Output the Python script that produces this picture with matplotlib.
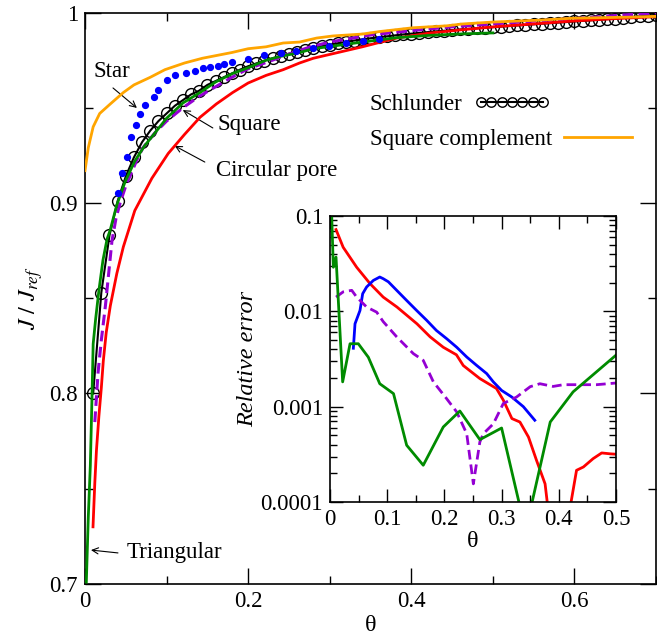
import numpy as np
import matplotlib
matplotlib.use("Agg")
import matplotlib.pyplot as plt
from matplotlib.ticker import MultipleLocator, NullFormatter, LogLocator

plt.rcParams['font.family'] = ['Liberation Serif', 'DejaVu Serif']
plt.rcParams['mathtext.fontset'] = 'stix'

# ---- main panel data (theta, J/Jref) ----
schl_theta = [0.01, 0.02, 0.03, 0.04, 0.05, 0.06, 0.07, 0.08, 0.09, 0.10,
              0.11, 0.12, 0.13, 0.14, 0.15, 0.16, 0.17, 0.18, 0.19, 0.20,
              0.21, 0.22, 0.23, 0.24, 0.25, 0.26, 0.27, 0.28, 0.29, 0.30,
              0.31, 0.32, 0.33, 0.34, 0.35, 0.36, 0.37, 0.38, 0.39, 0.40,
              0.41, 0.42, 0.43, 0.44, 0.45, 0.46, 0.47, 0.48, 0.49, 0.50,
              0.51, 0.52, 0.53, 0.54, 0.55, 0.56, 0.57, 0.58, 0.59, 0.60,
              0.61, 0.62, 0.63, 0.64, 0.65, 0.66, 0.67, 0.68, 0.69, 0.70]
schl_val = [0.800, 0.853, 0.883, 0.901, 0.914, 0.924, 0.932, 0.938, 0.943, 0.947,
            0.951, 0.954, 0.957, 0.959, 0.962, 0.964, 0.966, 0.968, 0.970, 0.9718,
            0.9733, 0.9747, 0.9760, 0.9772, 0.9784, 0.9795, 0.9805, 0.9814, 0.9823, 0.9831,
            0.9839, 0.9846, 0.9853, 0.9859, 0.9865, 0.9870, 0.9875, 0.9880, 0.9885, 0.9889,
            0.9893, 0.9897, 0.9901, 0.9904, 0.9908, 0.9911, 0.9914, 0.9917, 0.9920, 0.9923,
            0.9926, 0.9929, 0.9932, 0.9935, 0.9938, 0.9941, 0.9944, 0.9947, 0.9950, 0.9953,
            0.9956, 0.9959, 0.9962, 0.9965, 0.9968, 0.9972, 0.9976, 0.9980, 0.9984, 0.9988]

sqc_theta = [0.0, 0.004, 0.010, 0.018, 0.031, 0.047, 0.060, 0.080, 0.098, 0.122,
             0.144, 0.18, 0.20, 0.222, 0.243, 0.263, 0.284, 0.304, 0.34, 0.361,
             0.402, 0.443, 0.463, 0.50, 0.557, 0.597, 0.67, 0.70]
sqc_val = [0.917, 0.929, 0.940, 0.947, 0.952, 0.958, 0.962, 0.966, 0.970, 0.9735,
           0.976, 0.979, 0.981, 0.982, 0.984, 0.9845, 0.9866, 0.9877, 0.9887, 0.990,
           0.992, 0.993, 0.994, 0.995, 0.996, 0.997, 0.9976, 0.998]

star_theta = [0.040, 0.045, 0.051, 0.056, 0.062, 0.067, 0.073, 0.084, 0.090, 0.100,
              0.110, 0.124, 0.135, 0.145, 0.153, 0.163, 0.171, 0.180, 0.200, 0.220,
              0.240, 0.259, 0.279, 0.299, 0.320, 0.341, 0.360]
star_val = [0.9054, 0.9156, 0.9243, 0.9348, 0.941, 0.9467, 0.9514, 0.9555, 0.9593, 0.9646,
            0.9672, 0.9684, 0.9695, 0.9707, 0.9712, 0.9719, 0.973, 0.9739, 0.9754, 0.9777,
            0.9786, 0.9798, 0.9812, 0.9826, 0.9838, 0.9850, 0.9859]

sq_theta = [0.012, 0.016, 0.020, 0.025, 0.029, 0.033, 0.038, 0.043, 0.050, 0.057,
            0.064, 0.071, 0.086, 0.10, 0.12, 0.14, 0.16, 0.18, 0.20, 0.225,
            0.25, 0.275, 0.30, 0.35, 0.40, 0.45, 0.50, 0.55, 0.60, 0.65, 0.70]
sq_val = [0.785, 0.811, 0.828, 0.846, 0.863, 0.880, 0.892, 0.900, 0.909, 0.916,
          0.923, 0.929, 0.937, 0.943, 0.950, 0.956, 0.961, 0.966, 0.9705, 0.9742,
          0.9782, 0.9818, 0.9845, 0.9882, 0.9905, 0.9925, 0.9940, 0.9955, 0.9968, 0.9984, 0.9998]

tri_theta = [0.0016, 0.004, 0.0065, 0.0085, 0.010, 0.013, 0.017, 0.022, 0.027, 0.031,
             0.039, 0.049, 0.061, 0.073, 0.088, 0.10, 0.12, 0.141, 0.16, 0.181,
             0.20, 0.222, 0.24, 0.263, 0.28, 0.304, 0.34, 0.382, 0.422, 0.463, 0.50]
tri_val = [0.701, 0.735, 0.762, 0.797, 0.826, 0.839, 0.854, 0.870, 0.881, 0.886,
           0.899, 0.911, 0.922, 0.930, 0.938, 0.9445, 0.9525, 0.958, 0.9635, 0.968,
           0.971, 0.975, 0.977, 0.979, 0.981, 0.9824, 0.9845, 0.9868, 0.988, 0.9888, 0.9893]

circ_theta = [0.0098, 0.012, 0.014, 0.017, 0.020, 0.0224, 0.026, 0.031, 0.039, 0.047,
              0.061, 0.082, 0.102, 0.122, 0.141, 0.161, 0.181, 0.20, 0.222, 0.243,
              0.263, 0.28, 0.30, 0.34, 0.382, 0.422, 0.463, 0.504, 0.55, 0.597, 0.65, 0.70]
circ_val = [0.730, 0.753, 0.770, 0.788, 0.803, 0.817, 0.832, 0.846, 0.863, 0.877,
            0.896, 0.913, 0.926, 0.936, 0.945, 0.952, 0.958, 0.963, 0.967, 0.970,
            0.9735, 0.976, 0.978, 0.982, 0.9866, 0.9892, 0.991, 0.9926, 0.994, 0.9955, 0.9968, 0.9978]

# ---- inset data (theta, relative error) ----
e_circ_theta = [0.0105, 0.023, 0.0466, 0.07, 0.093, 0.117, 0.152, 0.175, 0.198, 0.221,
                0.233, 0.262, 0.291, 0.303, 0.318, 0.332, 0.347, 0.361, 0.376, 0.390,
                0.410, 0.431, 0.443, 0.46, 0.475, 0.49, 0.5]
e_circ = [0.072, 0.047, 0.029, 0.0195, 0.0141, 0.0111, 0.0074, 0.0054, 0.0042, 0.0035,
          0.0027, 0.00197, 0.00155, 0.00117, 0.00075, 0.00069, 0.00048, 0.000274, 0.000155, 0.00003,
          0.00004, 0.000215, 0.000233, 0.000285, 0.000327, 0.00032, 0.000317]

e_star_theta = [0.0408, 0.0437, 0.0524, 0.0571, 0.064, 0.0758, 0.087, 0.093, 0.102, 0.1166,
                0.134, 0.1515, 0.169, 0.186, 0.204, 0.2215, 0.239, 0.256, 0.274, 0.2855,
                0.300, 0.318, 0.338, 0.358]
e_star = [0.0041, 0.0074, 0.0102, 0.0153, 0.018, 0.0211, 0.0229, 0.022, 0.0204, 0.0166,
          0.013, 0.0102, 0.00805, 0.0063, 0.00516, 0.0042, 0.00332, 0.00272, 0.00222, 0.00182,
          0.00148, 0.00126, 0.001, 0.00072]

e_sq_theta = [0.0105, 0.023, 0.038, 0.0466, 0.064, 0.0816, 0.093, 0.1166, 0.1457, 0.163,
              0.1807, 0.204, 0.2215, 0.239, 0.2506, 0.262, 0.268, 0.2855, 0.303, 0.326,
              0.35, 0.367, 0.39, 0.408, 0.466, 0.5]
e_sq = [0.0141, 0.016, 0.0166, 0.0141, 0.0111, 0.0098, 0.0078, 0.0054, 0.0036, 0.00306,
        0.00182, 0.00121, 0.00088, 0.00052, 0.000155, 0.000427, 0.00052, 0.00066, 0.00108, 0.00126,
        0.00162, 0.00174, 0.00163, 0.0017, 0.0017, 0.00177]

e_tri_theta = [0.003, 0.0058, 0.0105, 0.0221, 0.035, 0.0495, 0.067, 0.087, 0.111, 0.134,
               0.163, 0.198, 0.227, 0.262, 0.300, 0.342, 0.385, 0.425, 0.5]
e_tri = [0.098, 0.029, 0.037, 0.00182, 0.00457, 0.00457, 0.0033, 0.00174, 0.00137, 0.000394,
         0.000243, 0.000612, 0.0009, 0.000451, 0.000597, 0.00005, 0.00069, 0.00143, 0.00347]

ORANGE = '#ffa500'
BLUE = '#0000ff'
VIOLET = '#9400d3'
GREEN = '#008b00'
RED = '#ff0000'
FS = 16.5

fig = plt.figure(figsize=(6.57, 6.36), dpi=100)
ax = fig.add_axes([0.1294, 0.0818, 0.8690, 0.8985])

l_schl, = ax.plot(schl_theta, schl_val, color='black', lw=1.5, marker='o', ms=8.5,
                  mfc='none', mec='black', mew=1.0, label='Schlunder', zorder=3)
ax.plot(sq_theta, sq_val, color=VIOLET, lw=2.2, dashes=(3.5, 1.8), zorder=4)
ax.plot(circ_theta, circ_val, color=RED, lw=2.0, zorder=4)
ax.plot(tri_theta, tri_val, color=GREEN, lw=2.0, zorder=5)
l_sqc, = ax.plot(sqc_theta, sqc_val, color=ORANGE, lw=2.0, label='Square complement', zorder=5)
ax.plot(star_theta, star_val, ls='none', marker='o', ms=4.2, color=BLUE, zorder=6)

ax.set_xlim(0, 0.7)
ax.set_ylim(0.7, 1.0)
ax.xaxis.set_minor_locator(MultipleLocator(0.1))
ax.yaxis.set_minor_locator(MultipleLocator(0.05))
ax.set_xticks([0, 0.2, 0.4, 0.6])
ax.set_xticklabels(['0', '0.2', '0.4', '0.6'])
ax.set_yticks([0.7, 0.8, 0.9, 1.0])
ax.set_yticklabels(['0.7', '0.8', '0.9', '1'])
ax.tick_params(which='both', direction='in', top=True, right=True, labelsize=FS, width=1.0)
ax.tick_params(which='major', length=11.5, pad=5)
ax.tick_params(which='minor', length=5.8)
for s in ax.spines.values():
    s.set_linewidth(1.2)
ax.set_xlabel('θ', fontsize=FS + 1, labelpad=2)
ax.set_ylabel(r'$J\ /\ J_{ref}$', fontsize=FS + 1, labelpad=3)

# two one-entry legends so each handle sits right after its own label
leg1 = ax.legend(handles=[l_schl], loc='upper left', bbox_to_anchor=(0.499, 0.857),
                 frameon=False, markerfirst=False, fontsize=FS, handlelength=3.3,
                 numpoints=7, markerscale=0.8, handletextpad=0.5, borderaxespad=0,
                 borderpad=0)
ax.add_artist(leg1)
ax.legend(handles=[l_sqc], loc='upper left', bbox_to_anchor=(0.499, 0.796),
          frameon=False, markerfirst=False, fontsize=FS, handlelength=3.0,
          handletextpad=0.5, borderaxespad=0, borderpad=0)

arrow = dict(arrowstyle='->', color='black', lw=0.8, mutation_scale=11, shrinkA=0, shrinkB=0)
ax.text(0.0098, 0.9693, 'Star', fontsize=FS, ha='left', va='center')
ax.annotate('', xy=(0.0636, 0.9499), xytext=(0.0343, 0.9604), arrowprops=arrow)
ax.text(0.1628, 0.9410, 'Square', fontsize=FS, ha='left', va='center')
ax.annotate('', xy=(0.1199, 0.9488), xytext=(0.1567, 0.9394), arrowprops=arrow)
ax.text(0.1603, 0.9173, 'Circular pore', fontsize=FS, ha='left', va='center')
ax.annotate('', xy=(0.110, 0.930), xytext=(0.1469, 0.9215), arrowprops=arrow)
ax.text(0.0514, 0.7163, 'Triangular', fontsize=FS, ha='left', va='center')
ax.annotate('', xy=(0.0073, 0.7178), xytext=(0.0404, 0.7163), arrowprops=arrow)

# ---- inset ----
ax2 = fig.add_axes([0.5023, 0.2107, 0.4353, 0.4497])
ax2.plot(e_circ_theta, e_circ, color=RED, lw=2.0)
ax2.plot(e_star_theta, e_star, color=BLUE, lw=2.0)
ax2.plot(e_sq_theta, e_sq, color=VIOLET, lw=2.0, dashes=(3.5, 1.8))
ax2.plot(e_tri_theta, e_tri, color=GREEN, lw=2.0)
ax2.set_yscale('log')
ax2.set_xlim(0, 0.5)
ax2.set_ylim(1e-4, 0.1)
ax2.set_yticks([1e-4, 1e-3, 1e-2, 1e-1])
ax2.set_yticklabels(['0.0001', '0.001', '0.01', '0.1'])
ax2.yaxis.set_minor_locator(LogLocator(base=10, subs=np.arange(2, 10)))
ax2.yaxis.set_minor_formatter(NullFormatter())
ax2.set_xticks([0, 0.1, 0.2, 0.3, 0.4, 0.5])
ax2.set_xticklabels(['0', '0.1', '0.2', '0.3', '0.4', '0.5'])
ax2.xaxis.set_minor_locator(MultipleLocator(0.05))
ax2.tick_params(which='both', direction='in', top=True, right=True, labelsize=FS, width=1.0)
ax2.tick_params(which='major', length=9.5, pad=5)
ax2.tick_params(which='minor', length=5)
for s in ax2.spines.values():
    s.set_linewidth(1.2)
ax2.set_xlabel('θ', fontsize=FS + 1, labelpad=1)
ax2.set_ylabel('Relative error', fontsize=FS + 1, style='italic', labelpad=2)

fig.savefig('out.png', dpi=100)
